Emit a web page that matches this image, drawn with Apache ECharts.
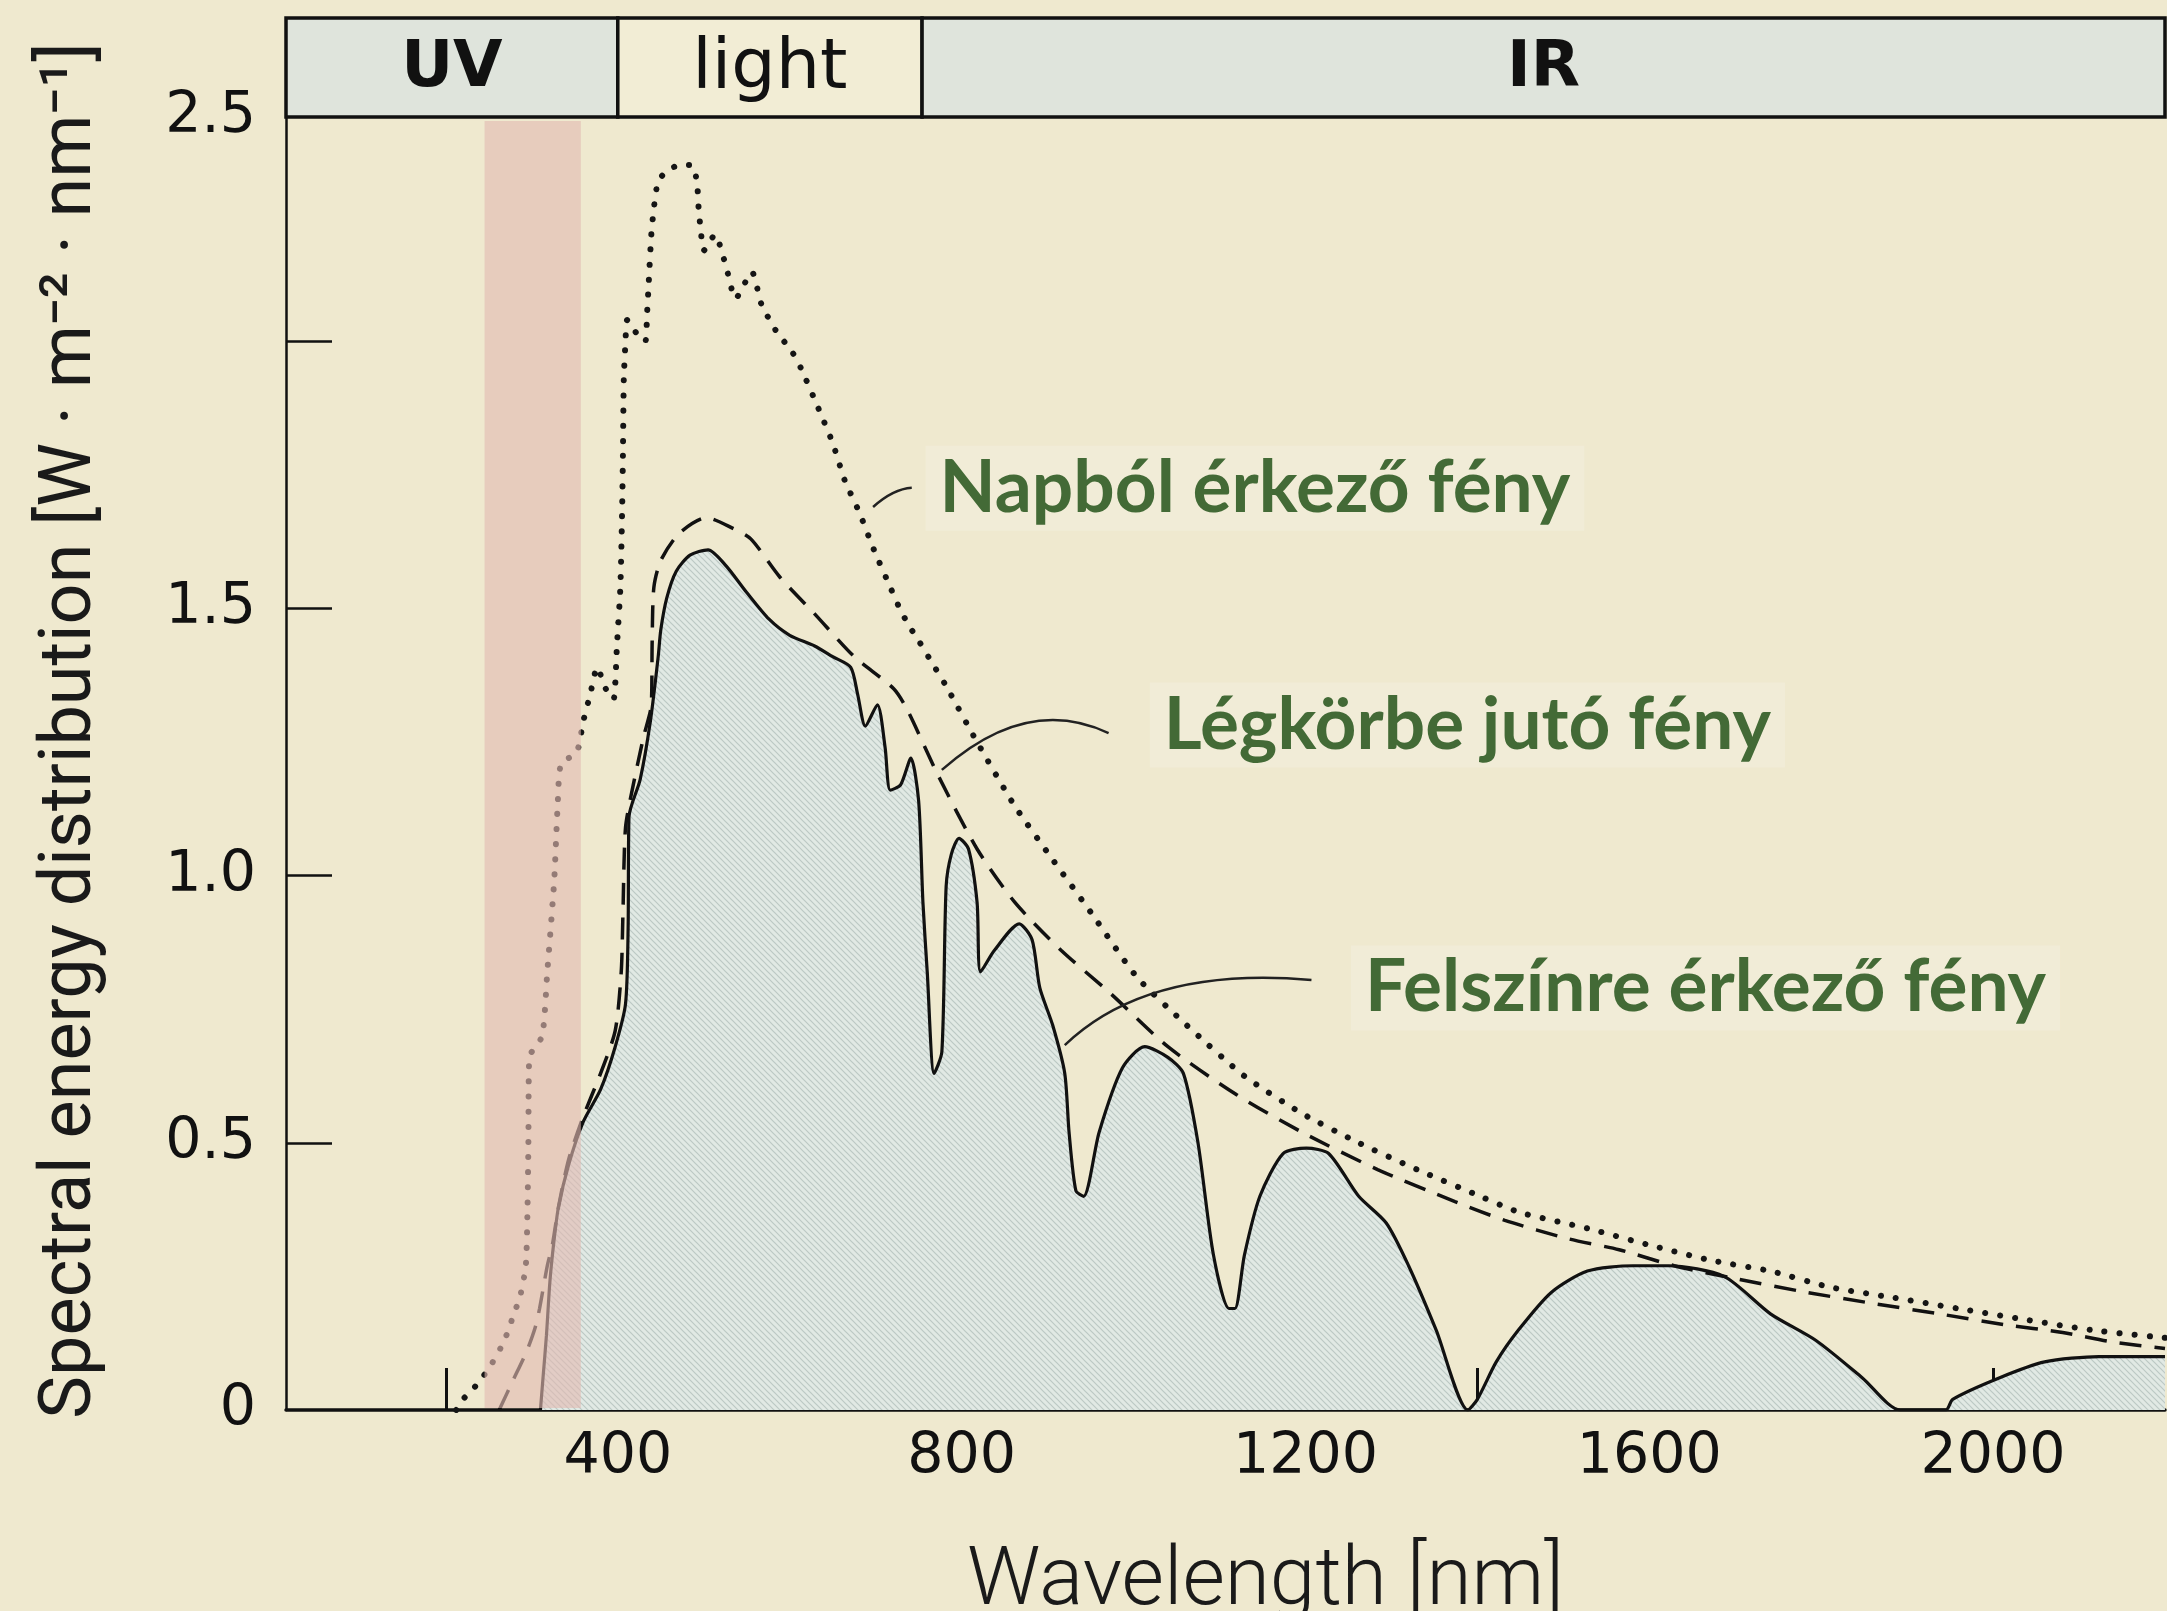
<!DOCTYPE html>
<html>
<head>
<meta charset="utf-8">
<title>Spectral energy distribution</title>
<script src="https://cdn.jsdelivr.net/npm/echarts@6/dist/echarts.min.js"></script>
<style>
  html, body { margin: 0; padding: 0; background: #efe9cf; }
  #chart { width: 2167px; height: 1611px; }
</style>
</head>
<body>
<div id="chart"></div>
<script>
// sunlight outside the atmosphere (dotted)
const sunNm = [212, 220, 232, 242, 251, 265, 273, 279, 286, 293, 295, 296, 297, 312, 318, 326, 330, 334, 352, 360,
  368, 376, 386, 395, 399, 403, 405, 406, 407, 409, 411, 424, 432, 434, 436, 439, 442, 447, 458, 472,
  486, 492, 494, 497, 500, 513, 526, 537, 556, 567, 584, 603, 613, 632, 650, 664, 681, 698, 717, 728,
  738, 750, 765, 782, 818, 862, 906, 951, 1004, 1062, 1129, 1196, 1262, 1330, 1396, 1449, 1528, 1597, 1672, 1741,
  1810, 1885, 1959, 2034, 2113, 2200];
const sunVal = [0, 0.02, 0.04, 0.06, 0.08, 0.12, 0.15, 0.18, 0.21, 0.27, 0.38, 0.5, 0.66, 0.70, 0.82, 0.99, 1.13, 1.21, 1.23, 1.29,
  1.34, 1.39, 1.35, 1.33, 1.43, 1.54, 1.68, 1.79, 1.93, 2.00, 2.04, 2.01, 2.00, 2.05, 2.11, 2.20, 2.25, 2.30, 2.32, 2.33,
  2.33, 2.30, 2.25, 2.20, 2.17, 2.20, 2.14, 2.08, 2.13, 2.07, 2.02, 1.98, 1.95, 1.88, 1.81, 1.74, 1.68, 1.61, 1.54, 1.50,
  1.47, 1.44, 1.40, 1.355, 1.25, 1.13, 1.03, 0.93, 0.81, 0.72, 0.625, 0.555, 0.50, 0.45, 0.405, 0.37, 0.34, 0.31, 0.28, 0.26,
  0.23, 0.21, 0.19, 0.17, 0.15, 0.135];

// light entering the atmosphere (dashed)
const atmNm = [262, 278, 294, 304, 309, 318, 324, 331, 343, 360, 380, 397, 404, 406, 409, 418, 430, 439, 440, 442,
  450, 471, 503, 534, 555, 588, 629, 675, 721, 737, 772, 818, 862, 916, 973, 1040, 1120, 1196, 1284, 1374,
  1432, 1507, 1565, 1629, 1703, 1784, 1858, 1937, 2012, 2081, 2140, 2200];
const atmVal = [0, 0.055, 0.11, 0.155, 0.19, 0.27, 0.31, 0.38, 0.47, 0.55, 0.63, 0.71, 0.82, 0.93, 1.09, 1.17, 1.26, 1.32, 1.44, 1.54,
  1.59, 1.64, 1.67, 1.65, 1.63, 1.56, 1.49, 1.41, 1.35, 1.31, 1.19, 1.05, 0.95, 0.86, 0.78, 0.68, 0.59, 0.52, 0.45, 0.39,
  0.355, 0.32, 0.30, 0.27, 0.245, 0.22, 0.20, 0.18, 0.16, 0.145, 0.127, 0.115];

// light reaching the surface (solid, filled)
const surfNm = [310, 313, 317, 321, 326, 331, 343, 360, 380, 397, 409, 412, 413, 426, 438, 447, 450, 457, 468, 484,
  505, 526, 550, 576, 600, 629, 650, 671, 679, 688, 702, 711, 717, 729, 741, 750, 755, 760, 768, 777,
  782, 788, 797, 808, 818, 822, 838, 867, 882, 891, 906, 920, 925, 933, 942, 960, 987, 1013, 1040, 1058,
  1075, 1093, 1111, 1118, 1129, 1147, 1174, 1201, 1227, 1262, 1294, 1320, 1352, 1389, 1400, 1422, 1448, 1486, 1528, 1581,
  1623, 1687, 1741, 1794, 1848, 1892, 1945, 1953, 2007, 2060, 2123, 2176, 2200];
const surfVal = [0, 0.06, 0.14, 0.24, 0.32, 0.38, 0.46, 0.54, 0.60, 0.68, 0.76, 0.90, 1.11, 1.18, 1.29, 1.41, 1.46, 1.52, 1.57, 1.60,
  1.61, 1.58, 1.53, 1.48, 1.45, 1.43, 1.41, 1.39, 1.34, 1.28, 1.32, 1.24, 1.16, 1.17, 1.22, 1.14, 0.95, 0.82, 0.63, 0.67,
  0.98, 1.04, 1.07, 1.05, 0.95, 0.82, 0.86, 0.91, 0.88, 0.79, 0.72, 0.63, 0.52, 0.41, 0.40, 0.52, 0.64, 0.68, 0.66, 0.63,
  0.50, 0.29, 0.19, 0.19, 0.29, 0.40, 0.48, 0.49, 0.48, 0.40, 0.35, 0.27, 0.15, 0, 0.02, 0.09, 0.15, 0.22, 0.26, 0.27,
  0.27, 0.25, 0.18, 0.13, 0.06, 0, 0, 0.02, 0.06, 0.09, 0.10, 0.10, 0.10];

// spectral bands in the header strip
const bandNames = ['UV', 'light', 'IR'];
const bandEdges = [14, 400, 754, 2200];
const uvbBand = [245, 357];

const xMin = 14, xMax = 2200, yMax = 2.42;
const xTicks = [200, 400, 600, 800, 1000, 1200, 1400, 1600, 1800, 2000];
const xLabels = [400, 800, 1200, 1600, 2000];
const yTicks = [0.5, 1, 1.5, 2];
const yLabels = [0, 0.5, 1, 1.5, yMax]; // the top edge is printed as 2.5 in the original

// annotations: text, text anchor, leader start / middle / end (data units)
const noteTexts = ['Napból érkező fény', 'Légkörbe jutó fény', 'Felszínre érkező fény'];
const noteAt = [[758, 1.725], [1019, 1.282], [1253, 0.79]];
const leadFrom = [[697, 1.69], [777, 1.198], [920, 0.683]];
const leadMid = [[720, 1.716], [875, 1.286], [1040, 0.788]];
const leadTo = [[742, 1.726], [971, 1.267], [1207, 0.805]];

const pairs = (xs, ys) => xs.map((x, i) => [x, ys[i]]);

// fine diagonal hatching for the surface area
function hatch() {
  const c = document.createElement('canvas');
  c.width = 6; c.height = 6;
  const g = c.getContext('2d');
  g.fillStyle = '#e1e9e4';
  g.fillRect(0, 0, 6, 6);
  g.strokeStyle = '#bcc8c4';
  g.lineWidth = 1.2;
  g.beginPath();
  g.moveTo(-1, -1); g.lineTo(7, 7);
  g.moveTo(-4, 2); g.lineTo(4, 10);
  g.moveTo(2, -4); g.lineTo(10, 4);
  g.stroke();
  return c;
}

const tickFont = '"DejaVu Sans", sans-serif';
const titleFont = 'Roboto, "DejaVu Sans", sans-serif';

const chart = echarts.init(document.getElementById('chart'));
chart.setOption({
  backgroundColor: '#efe9cf',
  animation: false,
  grid: [
    { left: 286, right: 2, top: 117, bottom: 201, outerBoundsMode: 'none' },
    { left: 286, right: 2, top: 18, height: 99, outerBoundsMode: 'none' }
  ],
  xAxis: [
    {
      type: 'value', gridIndex: 0, min: xMin, max: xMax,
      axisLine: { show: true, lineStyle: { color: '#111', width: 3.5 } },
      axisTick: { show: true, inside: true, length: 42, lineStyle: { color: '#111', width: 3 }, customValues: xTicks },
      axisLabel: { customValues: xLabels, fontSize: 57, color: '#111', margin: 20, fontFamily: tickFont,
        formatter: v => String(v) },
      splitLine: { show: false },
      name: 'Wavelength [nm]', nameLocation: 'middle', nameGap: 132, nameMoveOverlap: false,
      nameTextStyle: { fontSize: 82, fontWeight: 300, color: '#1a1a1a', fontFamily: titleFont, padding: [0, 0, 0, 80] }
    },
    { type: 'value', gridIndex: 1, min: xMin, max: xMax, show: false }
  ],
  yAxis: [
    {
      type: 'value', gridIndex: 0, min: 0, max: yMax,
      axisLine: { show: true, lineStyle: { color: '#111', width: 2.5 } },
      axisTick: { show: true, inside: true, length: 46, lineStyle: { color: '#111', width: 2.5 }, customValues: yTicks },
      axisLabel: {
        customValues: yLabels, fontSize: 57, color: '#111', margin: 30, fontFamily: tickFont,
        formatter: v => v > 2.4 ? '2.5' : (v === 0 ? '0' : v.toFixed(1))
      },
      splitLine: { show: false },
      name: 'Spectral energy distribution [W · m⁻² · nm⁻¹]', nameLocation: 'middle', nameGap: 178, nameMoveOverlap: false,
      nameTextStyle: { fontSize: 72, fontWeight: 400, color: '#1a1a1a', fontFamily: titleFont, padding: [0, 0, 0, 66] }
    },
    { type: 'value', gridIndex: 1, min: 0, max: 1, show: false }
  ],
  series: [
    {
      name: 'Felszínre érkező fény', type: 'line', data: pairs(surfNm, surfVal),
      smooth: 0.25, symbol: 'none', z: 2,
      lineStyle: { color: '#111', width: 3.2 },
      areaStyle: { color: { image: hatch(), repeat: 'repeat' }, opacity: 1 }
    },
    {
      name: 'Légkörbe jutó fény', type: 'line', data: pairs(atmNm, atmVal),
      smooth: 0.25, symbol: 'none', z: 3,
      lineStyle: { color: '#111', width: 3.5, type: [22, 13] }
    },
    {
      name: 'Napból érkező fény', type: 'line', data: pairs(sunNm, sunVal),
      smooth: 0.2, symbol: 'none', z: 3,
      lineStyle: { color: '#151515', width: 6, type: [0.1, 15], cap: 'round' }
    },
    {
      // UV-B strip, laid over the curves
      type: 'custom', z: 6, silent: true,
      data: [uvbBand],
      renderItem: (params, api) => {
        const a = api.coord([api.value(0), yMax]);
        const b = api.coord([api.value(1), 0]);
        return { type: 'rect', shape: { x: a[0], y: a[1] + 4, width: b[0] - a[0], height: b[1] - a[1] - 6 },
          style: { fill: 'rgba(226,186,178,0.62)' } };
      }
    },
    {
      // UV / light / IR header
      type: 'custom', xAxisIndex: 1, yAxisIndex: 1, silent: true,
      data: bandNames.map((n, i) => [bandEdges[i], bandEdges[i + 1]]),
      renderItem: (params, api) => {
        const a = api.coord([api.value(0), 1]);
        const b = api.coord([api.value(1), 0]);
        const name = bandNames[params.dataIndex];
        return {
          type: 'group',
          children: [
            { type: 'rect', shape: { x: a[0], y: a[1], width: b[0] - a[0], height: b[1] - a[1] },
              style: { fill: name === 'light' ? '#f2edd5' : '#dfe4dc', stroke: '#111', lineWidth: 3.5 } },
            { type: 'text', style: { text: name, x: (a[0] + b[0]) / 2, y: (a[1] + b[1]) / 2 + 2,
              align: 'center', verticalAlign: 'middle', fill: '#111',
              font: (name === 'light' ? 'normal 70px' : 'bold 64px') + ' "DejaVu Sans", sans-serif' } }
          ]
        };
      }
    }
  ]
});

// annotation texts and their leader curves
const px = p => chart.convertToPixel({ gridIndex: 0 }, p);
const graphics = [];
noteTexts.forEach((t, i) => {
  const p0 = px(leadFrom[i]), pm = px(leadMid[i]), p2 = px(leadTo[i]);
  graphics.push({
    type: 'bezierCurve', silent: true, z: 10,
    shape: { x1: p0[0], y1: p0[1], x2: p2[0], y2: p2[1],
      cpx1: 2 * pm[0] - (p0[0] + p2[0]) / 2, cpy1: 2 * pm[1] - (p0[1] + p2[1]) / 2 },
    style: { stroke: '#222', lineWidth: 2.5, fill: null }
  });
  const q = px(noteAt[i]);
  graphics.push({
    type: 'text', silent: true, z: 10, x: q[0], y: q[1],
    style: { text: t, align: 'left', verticalAlign: 'middle', fill: '#436a36',
      font: 'bold 73px Lato, "Open Sans", sans-serif',
      backgroundColor: '#f1ecd7', padding: [6, 14, 6, 14] }
  });
});
chart.setOption({ graphic: graphics });
</script>
</body>
</html>
